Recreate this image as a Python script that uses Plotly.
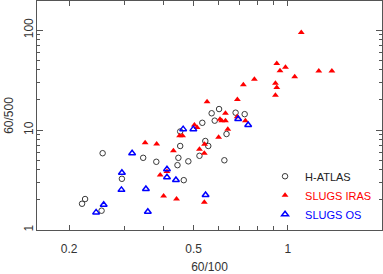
import plotly.graph_objects as go

# H-ATLAS (open black circles)
hatlas_x = [0.220, 0.225, 0.254, 0.256, 0.295, 0.345, 0.380, 0.453, 0.453, 0.447, 0.444, 0.465,
            0.481, 0.522, 0.533, 0.545, 0.557, 0.571, 0.584, 0.603, 0.627, 0.637, 0.681, 0.728]
hatlas_y = [1.83, 2.04, 1.56, 5.86, 3.25, 5.27, 4.81, 9.66, 6.92, 5.27, 4.45, 3.15,
            4.86, 5.52, 11.8, 7.76, 6.92, 14.7, 12.4, 16.2, 4.98, 9.12, 14.9, 14.4]

# SLUGS IRAS (filled red triangles)
iras_x = [1.104, 0.922, 0.983, 0.944, 1.256, 1.383, 1.052, 0.782, 0.913, 0.922, 0.721, 0.913,
          0.690, 0.552, 0.632, 0.689, 0.607, 0.615, 0.632, 0.732, 0.503, 0.513, 0.643, 0.451,
          0.461, 0.601, 0.350, 0.381, 0.542, 0.522, 0.431, 0.541, 0.411, 0.391, 0.401, 0.441, 0.541]
iras_y = [94.4, 46.2, 42.4, 39.2, 38.9, 38.9, 34.1, 32.1, 29.4, 26.6, 28.4, 22.3,
          20.2, 19.2, 14.7, 13.6, 12.8, 12.4, 12.4, 12.4, 11.2, 10.6, 10.2, 8.77,
          8.77, 8.45, 7.46, 7.24, 7.19, 6.41, 6.21, 5.85, 3.85, 3.55, 2.19, 2.04, 1.89]

# SLUGS OS (open blue triangles)
os_x = [0.244, 0.258, 0.295, 0.294, 0.318, 0.352, 0.357, 0.411, 0.411, 0.439, 0.463, 0.499,
        0.546, 0.694, 0.747]
os_y = [1.50, 1.79, 3.73, 2.52, 5.86, 2.57, 1.52, 4.05, 3.37, 3.16, 10.2, 10.2,
        2.24, 12.9, 11.2]

x_major = [0.2, 0.5, 1]
x_minor = [0.3, 0.4, 0.6, 0.7, 0.8, 0.9]
y_major = [1, 10, 100]
y_minor = [2, 3, 4, 5, 6, 7, 8, 9, 20, 30, 40, 50, 60, 70, 80, 90]

FONT = "Liberation Sans, Arial, sans-serif"

fig = go.Figure()
fig.add_trace(go.Scatter(
    x=hatlas_x, y=hatlas_y, mode="markers", name="H-ATLAS",
    marker=dict(symbol="circle-open", size=5.5, color="#3a3a3a", line=dict(width=1))))
fig.add_trace(go.Scatter(
    x=iras_x, y=iras_y, mode="markers",
    name='<span style="color:#ff0000">SLUGS IRAS</span>',
    marker=dict(symbol="triangle-up", size=6, color="#ff0000", line=dict(width=0))))
fig.add_trace(go.Scatter(
    x=os_x, y=os_y, mode="markers",
    name='<span style="color:#0000ff">SLUGS OS</span>',
    marker=dict(symbol="triangle-up-open", size=6, color="#0000ff", line=dict(width=1.5))))

axis_common = dict(
    showline=True, linecolor="#555555", linewidth=1, mirror="allticks",
    ticks="inside", tickcolor="#555555", showgrid=False, zeroline=False,
    automargin=False,
    tickfont=dict(family=FONT, size=12, color="#333333"),
)

fig.update_xaxes(
    type="log", range=[-0.8015, 0.301],
    tickvals=x_major, ticktext=["0.2", "0.5", "1"], ticklen=5,
    minor=dict(tickvals=x_minor, ticklen=4, ticks="inside", tickcolor="#555555"),
    ticklabelstandoff=8,
    title=dict(text="60/100", font=dict(family=FONT, size=12, color="#333333"), standoff=8),
    **axis_common)
fig.update_yaxes(
    type="log", range=[0, 2.29],
    tickvals=y_major, ticktext=["1", "10", "100"], ticklen=6, tickangle=-90,
    minor=dict(tickvals=y_minor, ticklen=3, ticks="inside", tickcolor="#555555"),
    ticklabelstandoff=-2,
    title=dict(text="60/500", font=dict(family=FONT, size=12, color="#333333"), standoff=6),
    **axis_common)

fig.update_layout(
    width=383, height=274,
    margin=dict(l=37, r=1, t=1, b=44, autoexpand=False),
    paper_bgcolor="white", plot_bgcolor="white",
    font=dict(family=FONT, size=11, color="#222222"),
    showlegend=True,
    legend=dict(x=0.661, y=0.298, xanchor="left", yanchor="top",
                bgcolor="rgba(0,0,0,0)", borderwidth=0,
                font=dict(family=FONT, size=11, color="#222222"),
                itemwidth=30),
)

fig.write_html(
    "out.html",
    config={"displayModeBar": False},
    post_script="document.body.style.margin='0';document.body.style.overflow='hidden';",
)
